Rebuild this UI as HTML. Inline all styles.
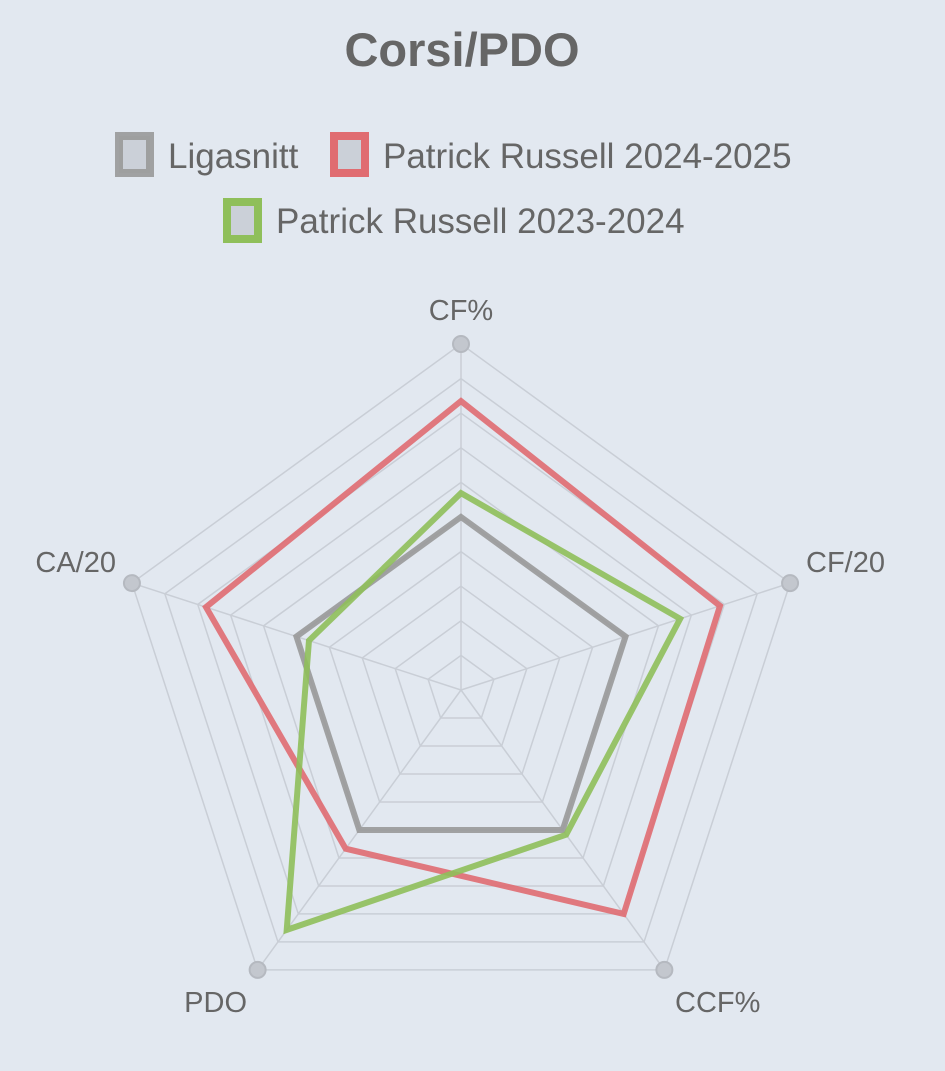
<!DOCTYPE html><html><head><meta charset="utf-8"><style>
body{margin:0;background:#e2e8f0;}
svg{display:block;font-family:"Liberation Sans",sans-serif;}
</style></head><body>
<svg id="s" width="945" height="1071" viewBox="0 0 945 1071">
<rect width="945" height="1071" fill="#e2e8f0"/>
<text x="462" y="66" text-anchor="middle" font-size="47" font-weight="bold" fill="#666">Corsi/PDO</text>
<rect x="119" y="136" width="31" height="37" fill="#cbd0d8" stroke="#999" stroke-width="8" stroke-opacity="0.9"/>
<text x="168" y="168" font-size="35" fill="#666">Ligasnitt</text>
<rect x="334" y="136" width="31" height="37" fill="#cbd0d8" stroke="#e06c71" stroke-width="8"/>
<text x="383" y="168" font-size="35" fill="#666">Patrick Russell 2024-2025</text>
<rect x="227" y="202" width="31" height="37" fill="#cbd0d8" stroke="#8fbf5a" stroke-width="8"/>
<text x="276" y="233" font-size="35" fill="#666">Patrick Russell 2023-2024</text>
<g id="grid"></g>
<g id="series"></g>
<text x="461" y="320" text-anchor="middle" font-size="29" fill="#666">CF%</text>
<text x="806" y="572" font-size="29" fill="#666">CF/20</text>
<text x="116" y="572" text-anchor="end" font-size="29" fill="#666">CA/20</text>
<text x="247" y="1012" text-anchor="end" font-size="29" fill="#666">PDO</text>
<text x="675" y="1012" font-size="29" fill="#666">CCF%</text>
</svg>
<script>
var cx=461,cy=690,R=346;
function pt(i,f){var a=(-90+72*i)*Math.PI/180;return [cx+R*f*Math.cos(a),cy+R*f*Math.sin(a)];}
var g=document.getElementById('grid'),h='';
for(var k=1;k<=10;k++){var p=[];for(var i=0;i<5;i++)p.push(pt(i,k/10).join(','));
h+='<polygon points="'+p.join(' ')+'" fill="none" stroke="#c9ced6" stroke-width="1.5"/>';}
for(var i=0;i<5;i++){var q=pt(i,1);h+='<line x1="'+cx+'" y1="'+cy+'" x2="'+q[0]+'" y2="'+q[1]+'" stroke="#c9ced6" stroke-width="1.5"/>';
h+='<circle cx="'+q[0]+'" cy="'+q[1]+'" r="8" fill="#c3c7ce" stroke="#b5b9c0" stroke-width="2"/>';}
g.innerHTML=h;
var S=[[[.5,.5,.5,.5,.5],'#999'],[[.835,.787,.8,.567,.775],'#e06c71'],[[.569,.666,.517,.857,.462],'#8fbf5a']];
h='';S.forEach(function(s){var p=[];for(var i=0;i<5;i++)p.push(pt(i,s[0][i]).join(','));
h+='<polygon points="'+p.join(' ')+'" fill="none" stroke="'+s[1]+'" stroke-width="6" stroke-linejoin="miter" stroke-opacity="0.9"/>';});
document.getElementById('series').innerHTML=h;
</script>
</body></html>
